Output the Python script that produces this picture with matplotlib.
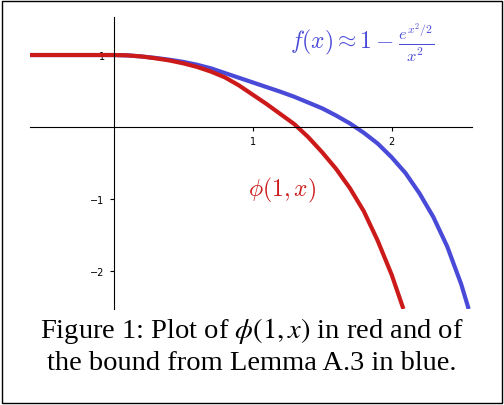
import matplotlib
matplotlib.use("Agg")
from matplotlib import pyplot as plt
from matplotlib.patches import Rectangle

plt.rcParams['mathtext.fontset'] = 'cm'

# values
red_x = [-0.6, 0.0, 0.1, 0.2, 0.3, 0.4, 0.5, 0.6, 0.7, 0.8, 0.9, 1.0, 1.1, 1.2, 1.3, 1.4,
         1.5, 1.6, 1.7, 1.8, 1.9, 2.0, 2.08]
red_y = [1.0, 1.0, 0.995, 0.98, 0.955, 0.925, 0.885, 0.835, 0.77, 0.69, 0.58, 0.45, 0.32,
         0.18, 0.04, -0.14, -0.35, -0.58, -0.85, -1.17, -1.58, -2.05, -2.5]
blue_x = [-0.6, 0.0, 0.1, 0.2, 0.3, 0.4, 0.5, 0.6, 0.7, 0.8, 0.9, 1.0, 1.1, 1.2, 1.3, 1.4,
          1.5, 1.6, 1.7, 1.8, 1.9, 2.0, 2.1, 2.2, 2.3, 2.4, 2.5, 2.55]
blue_y = [1.0, 1.0, 0.995, 0.98, 0.96, 0.935, 0.905, 0.865, 0.815, 0.75, 0.685, 0.62, 0.555,
          0.49, 0.42, 0.34, 0.26, 0.16, 0.05, -0.08, -0.23, -0.42, -0.64, -0.92, -1.25,
          -1.66, -2.18, -2.5]

fig = plt.figure(figsize=(5.04, 4.06), dpi=100)
ax = fig.add_axes([0.06, 0.236, 0.877, 0.72])
ax.plot(blue_x, blue_y, color='#4a4ad8', lw=3, solid_joinstyle='round')
ax.plot(red_x, red_y, color='#cc1a1a', lw=3, solid_joinstyle='round')
ax.set_xlim(-0.6, 2.58)
ax.set_ylim(-2.53, 1.53)
ax.spines['left'].set_position(('data', 0))
ax.spines['bottom'].set_position(('data', 0))
ax.spines['top'].set_visible(False)
ax.spines['right'].set_visible(False)
ax.set_xticks([1, 2])
ax.set_yticks([1, -1, -2])
ax.set_yticklabels(['1', '\u22121', '\u22122'])
ax.tick_params(labelsize=7, length=3)

ax.text(1.27, 1.1, r'$f(x) \approx 1 - \frac{e^{x^2/2}}{x^2}$', color='#4a4ad8', fontsize=17)
ax.text(0.97, -0.95, r'$\phi(1,x)$', color='#cc1a1a', fontsize=17)

plt.rcParams['mathtext.fontset'] = 'stix'
fig.text(0.5, 0.185, 'Figure 1: Plot of $\\phi(1,x)$ in red and of', ha='center', va='center',
         family='Liberation Serif', fontsize=20.5)
fig.text(0.5, 0.105, 'the bound from Lemma A.3 in blue.', ha='center', va='center',
         family='Liberation Serif', fontsize=20.5)
fig.patches.append(Rectangle((0.004, 0.004), 0.992, 0.992, transform=fig.transFigure,
                             fill=False, ec='black', lw=1))
fig.savefig('out.png', dpi=100)
